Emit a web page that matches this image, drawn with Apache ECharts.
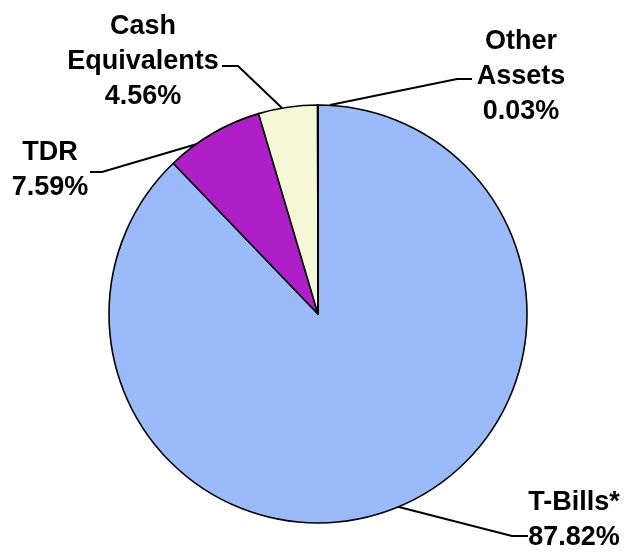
<!DOCTYPE html>
<html>
<head>
<meta charset="utf-8">
<script src="https://cdn.jsdelivr.net/npm/echarts@6/dist/echarts.min.js"></script>
<style>
html,body{margin:0;padding:0;background:#fff;}
#chart{width:627px;height:555px;}
</style>
</head>
<body>
<div id="chart"></div>
<script>
const categories = ['T-Bills*', 'TDR', 'Cash Equivalents', 'Other Assets'];
const values = [87.82, 7.59, 4.56, 0.03];
const colors = ['#9BBAF9', '#AF1FC7', '#F5F8D6', '#E8ECF8'];

// label anchor (center of text block) and leader line points, in pixels
const labelPlace = [
  {x: 574, y: 520, line: [[395, 506], [512, 536], [528, 536]]},
  {x: 50, y: 170, line: [[197, 144], [102, 172], [90, 172]]},
  {x: 143, y: 62, line: [[282, 108], [238, 66], [222, 66]]},
  {x: 521, y: 77, line: [[330, 105], [457, 79], [472, 79]]}
];

const chart = echarts.init(document.getElementById('chart'));
chart.setOption({
  backgroundColor: '#ffffff',
  animation: false,
  series: [{
    type: 'pie',
    center: [318, 314],
    radius: 209,
    startAngle: 90,
    clockwise: true,
    avoidLabelOverlap: false,
    data: categories.map((c, i) => ({name: c, value: values[i], itemStyle: {color: colors[i]}})),
    itemStyle: {borderColor: '#000', borderWidth: 1.6},
    label: {
      show: true,
      position: 'outside',
      formatter: p => p.name.replace(' ', '\n') + '\n' + p.value.toFixed(2) + '%',
      fontFamily: 'Liberation Sans, Arial, sans-serif',
      fontWeight: 'bold',
      fontSize: 27,
      lineHeight: 35,
      color: '#000',
      align: 'center'
    },
    labelLine: {show: true, lineStyle: {color: '#000', width: 2}},
    labelLayout: function (params) {
      const p = labelPlace[params.dataIndex];
      return {
        x: p.x,
        y: p.y,
        align: 'center',
        verticalAlign: 'middle',
        labelLinePoints: p.line
      };
    },
    emphasis: {disabled: true}
  }]
});
</script>
</body>
</html>
